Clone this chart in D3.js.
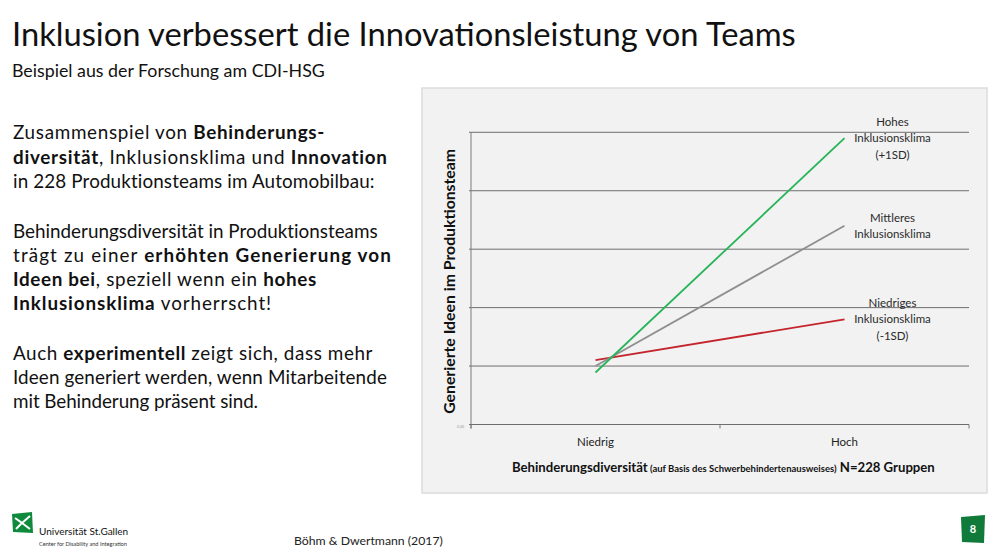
<!DOCTYPE html>
<html>
<head>
<meta charset="utf-8">
<script src="https://cdn.jsdelivr.net/npm/d3@7"></script>
<style>
  html, body { margin: 0; padding: 0; background: #fff; }
  svg { display: block; }
  text { font-family: Lato, "Open Sans", sans-serif; }
</style>
</head>
<body>
<div id="slide"></div>
<script>
// chart values
const categories = ['Niedrig', 'Hoch'];
const seriesNames = ['Hohes', 'Mittleres', 'Niedriges'];
const hohesValues = [0.89, 4.90];
const mittleresValues = [1.00, 3.40];
const niedrigesValues = [1.10, 1.80];
const yTicks = [0, 1, 2, 3, 4, 5];
const seriesLabels = [
    ['Hohes', 'Inklusionsklima', '(+1SD)'],
    ['Mittleres', 'Inklusionsklima'],
    ['Niedriges', 'Inklusionsklima', '(-1SD)']
];
const seriesColors = ['#27b458', '#8f8f8f', '#c4242b'];

// slide text
const bodyLines = [
    [['Zusammenspiel von ', 0], ['Behinderungs-', 1]],
    [['diversität', 1], [', Inklusionsklima und ', 0], ['Innovation', 1]],
    [['in 228 Produktionsteams im Automobilbau:', 0]],
    null,
    [['Behinderungsdiversität in Produktionsteams', 0]],
    [['trägt zu einer ', 0], ['erhöhten Generierung von', 1]],
    [['Ideen bei', 1], [', speziell wenn ein ', 0], ['hohes', 1]],
    [['Inklusionsklima', 1], [' vorherrscht!', 0]],
    null,
    [['Auch ', 0], ['experimentell', 1], [' zeigt sich, dass mehr', 0]],
    [['Ideen generiert werden, wenn Mitarbeitende', 0]],
    [['mit Behinderung präsent sind.', 0]]
];
// where each line ends in the picture
const bodyWidths = [312, 375, 362, null, 365, 379, 304, 259, null, 360, 374, 245];

const W = 1000, H = 553;
const svg = d3.select('#slide').append('svg')
    .attr('width', W).attr('height', H)
    .attr('viewBox', [0, 0, W, H]);

// scale font so the text gets a given width
function fitWidth(sel, target) {
    const node = sel.node();
    const fs = parseFloat(sel.attr('font-size'));
    const w = node.getComputedTextLength();
    if (w > 0) {
        const k = target / w;
        sel.attr('font-size', fs * k);
        sel.selectAll('tspan').each(function () {
            const t = d3.select(this);
            if (t.attr('font-size')) t.attr('font-size', parseFloat(t.attr('font-size')) * k);
        });
    }
}

// title + subtitle
const title = svg.append('text').attr('x', 12).attr('y', 46)
    .attr('font-size', 31).attr('fill', '#111')
    .text('Inklusion verbessert die Innovationsleistung von Teams');
fitWidth(title, 784);

const sub = svg.append('text').attr('x', 12).attr('y', 77)
    .attr('font-size', 17).attr('fill', '#111')
    .text('Beispiel aus der Forschung am CDI-HSG');
fitWidth(sub, 313);

// body text
const body = svg.append('g');
const bodyBase = [139, 164, 188, null, 238, 262, 286, 310, null, 360, 384, 408];
const bodyTexts = [];
bodyLines.forEach((line, i) => {
    if (!line) return;
    const t = body.append('text').attr('x', 13).attr('y', bodyBase[i])
        .attr('font-size', 18).attr('fill', '#111');
    line.forEach(([s, b]) => {
        t.append('tspan').attr('font-weight', b ? 700 : 400).text(s);
    });
    bodyTexts.push([t, bodyWidths[i], line.map((p) => p[0]).join('').length]);
});
// font size from a plain line, then letter spacing per line
{
    const ref = bodyTexts[3][0];
    const k = bodyTexts[3][1] / ref.node().getComputedTextLength();
    body.selectAll('text').attr('font-size', 18 * k);
    bodyTexts.forEach(([t, target, n]) => {
        const w = t.node().getComputedTextLength();
        t.attr('letter-spacing', (target - w) / n);
    });
}

// chart panel
const panel = { x: 422, y: 88, w: 565, h: 405 };
svg.append('rect')
    .attr('x', panel.x).attr('y', panel.y).attr('width', panel.w).attr('height', panel.h)
    .attr('fill', '#f2f2f2').attr('stroke', '#dcdcdc').attr('stroke-width', 1.5);

const x = d3.scaleBand().domain(categories).range([471, 969]).padding(0);
const y = d3.scaleLinear().domain([0, 5]).range([424.5, 132.3]);
const cx = (c) => x(c) + x.bandwidth() / 2;

// gridlines
svg.append('g')
    .selectAll('line')
    .data(yTicks.filter((d) => d > 0))
    .join('line')
    .attr('x1', 469).attr('x2', 969)
    .attr('y1', (d) => y(d)).attr('y2', (d) => y(d))
    .attr('stroke', '#6e6e6e').attr('stroke-width', 1);

// y axis line
svg.append('line')
    .attr('x1', 471).attr('x2', 471)
    .attr('y1', y(5)).attr('y2', y(0) + 4)
    .attr('stroke', '#7a7a7a').attr('stroke-width', 1);

// x axis with tick marks at band edges
const xAxis = svg.append('g').attr('transform', `translate(0,${y(0)})`);
xAxis.append('line').attr('x1', 469).attr('x2', 969).attr('y1', 0).attr('y2', 0)
    .attr('stroke', '#6e6e6e');
xAxis.selectAll('line.tk')
    .data([...categories.map((c) => x(c)), 969])
    .join('line').attr('class', 'tk')
    .attr('x1', (d) => d).attr('x2', (d) => d)
    .attr('y1', 0).attr('y2', 4)
    .attr('stroke', '#7a7a7a');
xAxis.selectAll('text.cat')
    .data(categories)
    .join('text').attr('class', 'cat')
    .attr('x', (d) => cx(d)).attr('y', 21.5)
    .attr('text-anchor', 'middle').attr('font-size', 11.5).attr('fill', '#222')
    .text((d) => d);

// tiny zero label left of the axis
svg.append('text').attr('x', 464).attr('y', 428)
    .attr('text-anchor', 'end').attr('font-size', 3.5).attr('fill', '#999')
    .text('0,00');

// lines
const seriesValues = [hohesValues, mittleresValues, niedrigesValues];
const lineGen = d3.line().x((d, i) => cx(categories[i])).y((d) => y(d));
const order = [2, 1, 0];
svg.append('g')
    .selectAll('path')
    .data(order)
    .join('path')
    .attr('d', (i) => lineGen(seriesValues[i]))
    .attr('fill', 'none')
    .attr('stroke', (i) => seriesColors[i])
    .attr('stroke-width', 1.8);

// series labels, centered on the line ends
seriesLabels.forEach((lines, i) => {
    const vals = seriesValues[i];
    const ey = y(vals[vals.length - 1]);
    const lx = cx(categories[categories.length - 1]) + 48;
    const lh = 16.5;
    const t = svg.append('text').attr('text-anchor', 'middle')
        .attr('font-size', 11.5).attr('fill', '#2a2a2a');
    lines.forEach((s, j) => {
        t.append('tspan').attr('x', lx)
            .attr('y', ey + (j - (lines.length - 1) / 2) * lh + 4)
            .text(s);
    });
});

// y axis title
const yTitle = svg.append('text')
    .attr('transform', `translate(455,${(y(0) + y(5)) / 2 + 3}) rotate(-90)`)
    .attr('text-anchor', 'middle').attr('font-size', 15).attr('font-weight', 700)
    .attr('fill', '#111')
    .text('Generierte Ideen im Produktionsteam');
fitWidth(yTitle, 265);

// x axis title
const xTitle = svg.append('text').attr('x', 512).attr('y', 472)
    .attr('font-size', 12.5).attr('font-weight', 700).attr('fill', '#111');
xTitle.append('tspan').text('Behinderungsdiversität');
xTitle.append('tspan').attr('font-size', 9).text(' (auf Basis des Schwerbehindertenausweises)');
xTitle.append('tspan').text(' N=228 Gruppen');
fitWidth(xTitle, 423);

// footer: logo
const logo = svg.append('g').attr('transform', 'translate(12,512)');
logo.append('path')
    .attr('d', 'M0,2 L20,0 L21,21 L1,20 Z')
    .attr('fill', '#0f8a3c');
logo.append('path')
    .attr('d', 'M3,6 L10,11 L4,17 M10,11 L18,4 M10,11 L18,17')
    .attr('stroke', '#fff').attr('stroke-width', 2).attr('fill', 'none');
svg.append('text').attr('x', 39).attr('y', 535)
    .attr('font-size', 10).attr('fill', '#111').text('Universität St.Gallen');
svg.append('text').attr('x', 39).attr('y', 546)
    .attr('font-size', 5.6).attr('fill', '#333').text('Center for Disability and Integration');

// citation
const cite = svg.append('text').attr('x', 294).attr('y', 545)
    .attr('font-size', 12).attr('fill', '#222').text('Böhm & Dwertmann (2017)');
fitWidth(cite, 149);

// page number
svg.append('path').attr('d', 'M961,517 L985,515 L984,543 L962,542 Z').attr('fill', '#0f7a3a');
svg.append('text').attr('x', 973).attr('y', 533).attr('text-anchor', 'middle')
    .attr('font-size', 11).attr('font-weight', 700).attr('fill', '#fff').text('8');
</script>
</body>
</html>
